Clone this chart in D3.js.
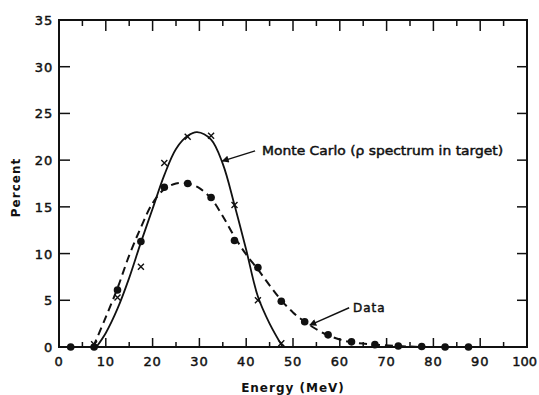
<!DOCTYPE html>
<html>
<head>
<meta charset="utf-8">
<script src="https://cdn.jsdelivr.net/npm/d3@7"></script>
<style>
  body { margin: 0; background: #fff; }
  text { font-family: "DejaVu Sans", sans-serif; fill: #111; }
  .heavy { stroke: #111; stroke-width: 0.45px; }
</style>
</head>
<body>
<div id="chart"></div>
<script>
// Energy bins (MeV) for measured data and Monte Carlo points
const dataEnergy = [2.5, 7.5, 12.5, 17.5, 22.5, 27.5, 32.5, 37.5, 42.5, 47.5, 52.5, 57.5, 62.5, 67.5, 72.5, 77.5, 82.5, 87.5];
const dataPercent = [0, 0, 6.1, 11.3, 17.1, 17.5, 16.0, 11.4, 8.5, 4.9, 2.7, 1.3, 0.55, 0.25, 0.1, 0.05, 0, 0];

const mcEnergy = [7.5, 12.5, 17.5, 22.5, 27.5, 32.5, 37.5, 42.5, 47.5];
const mcPercent = [0.3, 5.3, 8.6, 19.7, 22.5, 22.6, 15.2, 5.0, 0.4];

// smooth curves drawn through the points
const mcCurveE = [8, 10, 12.5, 15, 17.5, 20, 22.5, 25, 27.5, 29.5, 32.5, 35, 37.5, 40, 42.5, 45, 47.8];
const mcCurveP = [0, 1.5, 4.1, 7.4, 11.2, 14.8, 18.4, 21.2, 22.6, 23.0, 22.2, 19.6, 15.2, 10.4, 5.4, 2.5, 0];

const dataCurveE = [7.3, 10, 12.5, 15, 17.5, 20, 22.5, 25, 27.5, 30, 32.5, 35, 37.5, 40, 42.5, 45, 47.5, 50, 52.5, 55, 57.5, 60, 62.5, 67.5, 72.5, 77.5];
const dataCurveP = [0, 3.2, 6.3, 9.8, 12.8, 15.4, 16.9, 17.5, 17.5, 17.0, 15.9, 14.0, 11.8, 9.9, 8.3, 6.6, 5.0, 3.7, 2.7, 1.9, 1.25, 0.8, 0.5, 0.25, 0.1, 0];

const xTicks = [0, 10, 20, 30, 40, 50, 60, 70, 80, 90, 100];
const yTicks = [0, 5, 10, 15, 20, 25, 30, 35];

const width = 539, height = 395;
const margin = { left: 59, right: 12, top: 20, bottom: 48 };

const svg = d3.select("#chart").append("svg")
  .attr("width", width).attr("height", height);

const x = d3.scaleLinear().domain([0, 100]).range([margin.left, width - margin.right]);
const y = d3.scaleLinear().domain([0, 35]).range([height - margin.bottom, margin.top]);

// frame
svg.append("rect")
  .attr("x", x(0)).attr("y", y(35))
  .attr("width", x(100) - x(0)).attr("height", y(0) - y(35))
  .attr("fill", "none").attr("stroke", "#111").attr("stroke-width", 2);

// x ticks: inward, bottom and top, major every 10 and minor every 5
const xMinor = d3.range(5, 100, 10);
const tickG = svg.append("g").attr("stroke", "#111").attr("stroke-width", 1.5);
xTicks.slice(1, -1).forEach(v => {
  tickG.append("line").attr("x1", x(v)).attr("x2", x(v)).attr("y1", y(0)).attr("y2", y(0) - 9);
  tickG.append("line").attr("x1", x(v)).attr("x2", x(v)).attr("y1", y(35)).attr("y2", y(35) + 11);
});
xMinor.forEach(v => {
  tickG.append("line").attr("x1", x(v)).attr("x2", x(v)).attr("y1", y(0)).attr("y2", y(0) - 5);
  tickG.append("line").attr("x1", x(v)).attr("x2", x(v)).attr("y1", y(35)).attr("y2", y(35) + 6);
});
yTicks.slice(1, -1).forEach(v => {
  tickG.append("line").attr("x1", x(0)).attr("x2", x(0) + 11).attr("y1", y(v)).attr("y2", y(v));
  tickG.append("line").attr("x1", x(100)).attr("x2", x(100) - 10).attr("y1", y(v)).attr("y2", y(v));
});

// tick labels (the last one is pulled in so it stays on the page)
svg.append("g").selectAll("text").data(xTicks).join("text")
  .attr("class", "heavy")
  .attr("x", d => d === 100 ? width - 2 : x(d)).attr("y", y(0) + 19)
  .attr("text-anchor", d => d === 100 ? "end" : "middle")
  .attr("font-size", 13).attr("letter-spacing", d => d === 100 ? 0 : 0.8)
  .text(d => d);
svg.append("g").selectAll("text").data(yTicks).join("text")
  .attr("class", "heavy")
  .attr("x", x(0) - 6).attr("y", d => y(d) + 5)
  .attr("text-anchor", "end")
  .attr("font-size", 13).attr("letter-spacing", 0.8)
  .text(d => d);

// axis titles
svg.append("text")
  .attr("x", (x(0) + x(100)) / 2).attr("y", 392)
  .attr("text-anchor", "middle").attr("font-size", 12).attr("font-weight", "bold")
  .attr("letter-spacing", 1)
  .text("Energy (MeV)");
svg.append("text")
  .attr("transform", `translate(20,${(y(0) + y(35)) / 2 + 4}) rotate(-90)`)
  .attr("text-anchor", "middle").attr("font-size", 12).attr("font-weight", "bold")
  .attr("letter-spacing", 1)
  .text("Percent");

const line = d3.line().x(d => x(d[0])).y(d => y(d[1])).curve(d3.curveCatmullRom.alpha(0.5));

// Monte Carlo solid curve
svg.append("path")
  .datum(d3.zip(mcCurveE, mcCurveP))
  .attr("d", line)
  .attr("fill", "none").attr("stroke", "#111").attr("stroke-width", 1.8);

// Data dashed curve
svg.append("path")
  .datum(d3.zip(dataCurveE, dataCurveP))
  .attr("d", line)
  .attr("fill", "none").attr("stroke", "#111").attr("stroke-width", 2)
  .attr("stroke-dasharray", "8,5");

// data dots
svg.append("g").selectAll("circle").data(d3.zip(dataEnergy, dataPercent)).join("circle")
  .attr("cx", d => x(d[0])).attr("cy", d => y(d[1]))
  .attr("r", 3.8).attr("fill", "#111");

// Monte Carlo crosses
const s = 3;
svg.append("g").attr("stroke", "#111").attr("stroke-width", 1.4)
  .selectAll("path").data(d3.zip(mcEnergy, mcPercent)).join("path")
  .attr("d", d => {
    const cx = x(d[0]), cy = y(d[1]);
    return `M${cx - s},${cy - s}L${cx + s},${cy + s}M${cx + s},${cy - s}L${cx - s},${cy + s}`;
  });

// annotations with arrows
svg.append("defs").append("marker")
  .attr("id", "arrow").attr("viewBox", "0 0 10 10")
  .attr("refX", 9).attr("refY", 5)
  .attr("markerWidth", 10).attr("markerHeight", 7)
  .attr("markerUnits", "userSpaceOnUse")
  .attr("orient", "auto")
  .append("path").attr("d", "M0,0L10,5L0,10Z").attr("fill", "#111");

function arrow(e0, p0, e1, p1) {
  svg.append("line")
    .attr("x1", x(e0)).attr("y1", y(p0)).attr("x2", x(e1)).attr("y2", y(p1))
    .attr("stroke", "#111").attr("stroke-width", 1.4)
    .attr("marker-end", "url(#arrow)");
}
arrow(41.9, 21.0, 34.9, 19.9);
arrow(62.0, 4.2, 53.6, 2.35);

svg.append("text")
  .attr("class", "heavy")
  .attr("x", x(43.4)).attr("y", y(20.5))
  .attr("font-size", 12).attr("textLength", 241).attr("lengthAdjust", "spacingAndGlyphs")
  .text("Monte Carlo (\u03C1 spectrum in target)");
svg.append("text")
  .attr("class", "heavy")
  .attr("x", x(62.8)).attr("y", y(3.75))
  .attr("font-size", 12).attr("letter-spacing", 1)
  .text("Data");
</script>
</body>
</html>
